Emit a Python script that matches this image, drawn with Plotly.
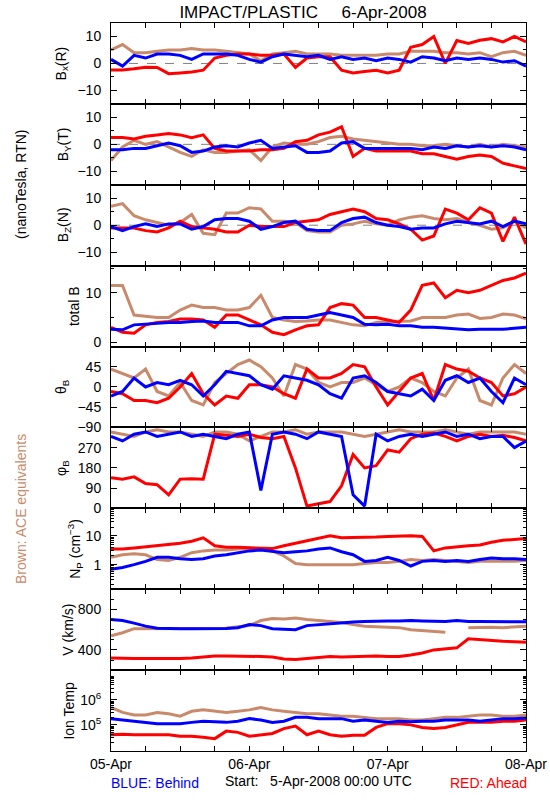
import pandas as pd
import plotly.graph_objects as go

# ---------------- data (2-hourly readings, 5-Apr-2008 00:00 .. 8-Apr-2008 00:00) ----------------
time = pd.date_range("2008-04-05 00:00", periods=37, freq="2h")

bx_ahead = [-2.4, -2.4, -2.0, -1.4, -1.5, -3.8, -3.5, -3.2, -2.5, 2.0, 3.0, 3.5, 3.5, 3.0, 3.0, 3.5, -1.5, 2.0, 2.5,
            2.5, -2.5, -3.5, -3.0, -2.5, -3.5, -2.5, 6.0, 7.0, 10.0, 0.0, 8.5, 7.4, 8.6, 9.2, 8.0, 10.0, 8.0]
bx_behind = [1.5, -1.0, 3.0, 2.0, 3.5, 3.5, 3.0, 1.5, 3.5, 3.5, 3.5, 3.0, 1.5, 0.5, 2.5, 3.5, 3.0, 2.5, 3.0,
             1.5, 2.5, 1.5, 2.0, 1.0, 2.0, 1.5, 0.5, 2.5, 2.0, 1.0, 2.0, 1.5, 2.0, 1.5, 0.5, 1.0, -1.0]
bx_ace = [5, 7, 4, 4, 4.5, 5, 5, 5.5, 5, 5, 4.5, 4, 3.5, 1.0, 3.5, 4, 4.5, 3.5, 3.5,
          3.5, 3, 3, 3, 3, 3.5, 3.5, 4.5, 4.5, 4.5, 4.0, 4.0, 3.5, 4.0, 2.5, 4.0, 4.5, 3.0]

by_ahead = [2.5, 2.5, 2.0, 3.0, 3.5, 4.0, 3.5, 2.5, 3.5, -1.5, -2.5, -2.5, -2.5, -2, -2, -1.5, 1.0, 1.5, 3.5,
            4.5, 6.5, -4.5, -1.5, -2.5, -2.5, -2.5, -2.5, -3.5, -3.5, -4.5, -5.5, -4.5, -4.0, -4.5, -7, -8, -9]
by_behind = [-2, -2, -1.5, -1.5, -0.5, 0.5, -0.5, -3, -2.5, -1, -0.5, -1, 0.5, 1.5, -1.5, -1, -0.5, -3, -3,
             -2.5, 0.5, 1.0, -1.5, -1.5, -1.5, -1.5, -1.5, -2, -1, -1.5, -0.5, -1, -0.5, -1, -0.5, -1, -2]
by_ace = [-6, -1, 1.5, 0, 1.0, -1, -3, -4.5, -2, -3, -3, -2.5, -2, -6, -1, 0.5, 0, 0, 1,
          2.5, 3, 2, 1.5, 1.0, 0.5, 0, 0, -0.5, -0.5, 0, -0.5, -1, 0, -1, 0, -0.5, -1]

bz_ahead = [-1, -1, -1, -2, -2.5, -1, 1.5, -0.5, -1, -1.5, -2.5, -2.5, 0, -0.5, -0.5, -0.5, 1, 1.5, 2,
            4, 5, 6, 5, 2.5, 2, 0.5, -1.5, -5.5, -4, 6, 4.5, 2, 6.5, 4.5, -6, 3, -7]
bz_behind = [-0.5, -2, -0.5, 0.5, -0.5, 0.5, 0.5, -1.5, -0.5, 2, 2.5, 2.5, 1.5, -1.5, -0.5, 1, 1.5, -1.5, -2,
             -2, 1, 2.5, 3, 1, 0, -0.5, -1.5, -1, -1, 0.5, 1.5, 1, 0.5, 1.5, -0.5, 1.5, 0.5]
bz_ace = [7, 8, 3.5, 2, 1, 0, 1, 4, -3, -3.5, 4.5, 4.5, 6.5, 6, 1.5, 1.5, 1, -2, -2.5,
          -2.5, 0, 0.5, 1.5, 0.5, 0, 2, 3, 3.5, 2.5, 2, 2.5, 1, 0, -1.5, -1, 1.5, -1]

btot_ahead = [3.0, 2.0, 1.8, 3.5, 4.0, 4.2, 4.7, 4.7, 4.5, 3.0, 5.5, 5.5, 4.5, 3.5, 2.0, 1.5, 2.5, 3.3, 3.5,
              7.0, 7.8, 7.5, 5.0, 5.0, 4.5, 4.0, 6.5, 11.5, 12.0, 9.0, 10.5, 10.0, 10.5, 11.5, 12.5, 13.0, 14.0]
btot_behind = [2.6, 2.5, 3.5, 3.6, 3.8, 4.0, 4.0, 4.2, 4.3, 4.0, 4.0, 4.0, 3.3, 3.3, 4.5, 5.0, 5.0, 5.0, 5.5,
               6.0, 5.5, 5.0, 3.6, 3.5, 3.6, 3.3, 3.3, 3.0, 3.0, 2.8, 2.6, 2.5, 2.6, 2.6, 2.6, 2.8, 3.0]
btot_ace = [11.5, 11.5, 5.5, 5.3, 5.0, 5.0, 6.5, 7.5, 7.0, 7.0, 6.5, 6.5, 7.0, 9.5, 5.0, 4.5, 4.2, 4.3, 4.5,
            4.5, 4.0, 3.5, 3.3, 4.0, 4.2, 4.2, 4.3, 5.0, 5.0, 5.0, 5.5, 5.7, 4.8, 5.0, 5.7, 5.5, 4.7]

theta_ahead = [-10, -15, -30, -30, -35, -25, 0, 30, -15, -40, -20, -25, 5, 5, 0, -15, -25, 40, 20,
               20, 30, 50, 45, 0, -40, -10, 20, 30, -30, 50, 40, 35, 20, 10, -20, -15, 0]
theta_behind = [-20, -10, 20, 0, 10, 5, 15, 5, -20, 5, 35, 30, 25, 5, -5, 25, 20, 15, 5,
                -15, -25, 20, 25, 10, -10, -15, -20, -5, -30, 15, 25, 10, 20, -10, -35, 20, 5]
theta_ace = [40, 30, 20, 40, -10, -20, 10, -30, -40, 10, 30, 50, 60, 45, 20, -20, 50, 40, 10,
             0, 10, 10, 20, 5, -10, 0, 20, 10, -10, -20, 20, 40, -30, -40, 20, 50, 30]

phi_ahead = [136, 130, 140, 110, 105, 60, 130, 132, 130, 330, 325, 320, 330, 315, 310, 320, 180, 10, 20,
             30, 100, 240, 180, 190, 260, 250, 310, 330, 335, 320, 300, 320, 330, 320, 325, 315, 300]
phi_behind = [320, 300, 330, 340, 320, 330, 340, 320, 330, 320, 310, 330, 340, 80, 330, 340, 330, 310, 340,
              330, 320, 60, 10, 330, 300, 320, 330, 320, 330, 340, 320, 330, 310, 320, 320, 270, 300]
phi_ace = [340, 330, 320, 340, 350, 340, 340, 330, 320, 340, 340, 330, 300, 320, 340, 340, 350, 330, 340,
           340, 340, 330, 320, 330, 340, 350, 340, 340, 340, 350, 340, 330, 340, 340, 340, 340, 330]

np_ahead = [3.5, 3.5, 3.8, 4.2, 4.5, 5.0, 5.5, 6.5, 8.5, 4.5, 4.0, 4.0, 3.8, 3.8, 3.6, 4.5, 5.5, 6.5, 8.0,
            10.0, 8.5, 8.5, 8.5, 9.0, 9.5, 10.0, 10.0, 9.5, 3.0, 3.8, 4.2, 4.5, 4.8, 6.0, 7.0, 7.5, 8.0]
np_behind = [0.7, 0.8, 1.0, 1.3, 1.8, 1.8, 1.6, 1.5, 1.6, 2.0, 2.2, 2.5, 3.0, 3.2, 2.8, 2.6, 2.8, 3.0, 3.5,
             3.8, 2.8, 2.2, 1.3, 1.4, 1.8, 1.4, 0.9, 1.3, 1.4, 1.3, 1.4, 1.3, 1.5, 1.7, 1.6, 1.6, 1.5]
np_ace = [1.8, 2.2, 2.4, 2.2, 1.5, 1.4, 1.8, 2.6, 3.0, 3.2, 3.2, 3.5, 3.6, 3.6, 3.0, 2.0, 1.1, 1.0, 1.0,
          1.0, 1.0, 1.0, 1.1, 1.2, 1.2, 1.3, 1.5, 1.4, 1.5, 1.4, 1.3, 1.2, 1.3, 1.3, 1.3, 1.3, 1.4]

v_ahead = [320, 315, 315, 315, 315, 312, 315, 320, 330, 340, 340, 340, 335, 335, 330, 310, 305, 315, 330,
           335, 330, 335, 340, 340, 335, 335, 350, 370, 400, 410, 420, 510, 500, 490, 485, 480, 475]
v_behind = [700, 690, 665, 635, 615, 610, 610, 610, 610, 610, 612, 620, 650, 640, 610, 605, 600, 640, 650,
            660, 670, 675, 680, 685, 685, 685, 690, 685, 685, 680, 690, 680, 680, 680, 680, 678, 678]
v_ace = [540, 570, 610, 610, 610, 615, 615, 610, 610, 615, 615, 630, 640, 690, 710, 705, 715, 700, 690,
         680, 670, 650, 635, 630, 625, 620, 600, 590, 580, 575, None, 620, 625, 625, 620, 630, 635]

temp_ahead = [4.0e4, 4.2e4, 4.0e4, 4.0e4, 3.8e4, 4.0e4, 3.5e4, 3.5e4, 3.2e4, 2.8e4, 5.6e4, 5.0e4, 3.5e4,
              4.0e4, 4.5e4, 7.1e4, 8.9e4, 4.0e4, 5.6e4, 4.0e4, 3.5e4, 3.8e4, 3.8e4, 7.9e4, 1.12e5, 1.12e5,
              1.0e5, 7.9e4, 7.1e4, 7.9e4, 1.0e5, 1.26e5, 1.26e5, 1.26e5, 1.41e5, 1.41e5, 1.58e5]
temp_behind = [1.78e5, 1.58e5, 1.41e5, 1.26e5, 1.12e5, 1.12e5, 1.12e5, 1.26e5, 1.41e5, 1.32e5, 1.26e5,
               1.41e5, 1.78e5, 1.58e5, 1.26e5, 1.41e5, 2.0e5, 2.0e5, 1.78e5, 1.78e5, 1.78e5, 1.41e5, 1.58e5,
               1.41e5, 1.26e5, 1.41e5, 1.32e5, 1.41e5, 1.41e5, 1.58e5, 1.58e5, 1.58e5, 1.41e5, 1.58e5,
               1.78e5, 1.78e5, 1.9e5]
temp_ace = [5.0e5, 3.16e5, 2.5e5, 2.5e5, 3.16e5, 2.8e5, 2.24e5, 3.5e5, 4.0e5, 3.5e5, 3.16e5, 3.5e5, 4.0e5,
            5.0e5, 4.0e5, 3.5e5, 3.16e5, 2.8e5, 2.8e5, 2.5e5, 2.24e5, 2.24e5, 2.0e5, 1.78e5, 1.78e5, 1.78e5,
            1.58e5, 1.58e5, 1.78e5, 2.0e5, 2.0e5, 2.24e5, 2.5e5, 2.5e5, 2.24e5, 2.24e5, 2.5e5]

day_ticks = pd.date_range("2008-04-05 00:00", periods=4, freq="1D")
day_labels = ["05-Apr", "06-Apr", "07-Apr", "08-Apr"]
six_hour_ticks = [t for t in pd.date_range("2008-04-05 00:00", periods=13, freq="6h") if t.hour != 0]

# ---------------- styling ----------------
RED = "#FF0000"
BLUE = "#0000FF"
BROWN = "#C98A6C"
FONT = "Liberation Sans"

panels = [
    dict(title="B<sub>x</sub>(R)", data=(bx_ace, bx_ahead, bx_behind), rng=[-15, 15], tv=[-10, 0, 10],
         tt=None, log=False, minor=[-15, -5, 5, 15], zero=True, tx=62),
    dict(title="B<sub>Y</sub>(T)", data=(by_ace, by_ahead, by_behind), rng=[-15, 15], tv=[-10, 0, 10],
         tt=None, log=False, minor=[-15, -5, 5, 15], zero=True, tx=64),
    dict(title="B<sub>Z</sub>(N)", data=(bz_ace, bz_ahead, bz_behind), rng=[-15, 15], tv=[-10, 0, 10],
         tt=None, log=False, minor=[-15, -5, 5, 15], zero=True, tx=64),
    dict(title="total B", data=(btot_ace, btot_ahead, btot_behind), rng=[-0.9, 15.5], tv=[0, 10],
         tt=None, log=False, minor=[5, 15], zero=False, tx=74),
    dict(title="θ<sub>B</sub>", data=(theta_ace, theta_ahead, theta_behind), rng=[-90, 90],
         tv=[-90, -45, 0, 45], tt=None, log=False, minor=[], zero=False, tx=62),
    dict(title="φ<sub>B</sub>", data=(phi_ace, phi_ahead, phi_behind), rng=[0, 360], tv=[0, 90, 180, 270],
         tt=None, log=False, minor=[], zero=False, tx=62),
    dict(title="N<sub>P</sub> (cm<sup>−3</sup>)", data=(np_ace, np_ahead, np_behind), rng=[-0.85, 1.95],
         tv=[1, 10], tt=["1", "10"], log=True,
         minor=[0.2, 0.3, 0.4, 0.5, 0.6, 0.7, 0.8, 0.9, 2, 3, 4, 5, 6, 7, 8, 9, 20, 30, 40, 50, 60, 70, 80],
         zero=False, tx=75),
    dict(title="V (km/s)", data=(v_ace, v_ahead, v_behind), rng=[200, 1000], tv=[400, 800], tt=None,
         log=False, minor=[300, 500, 600, 700, 900], zero=False, tx=68),
    dict(title="Ion Temp", data=(temp_ace, temp_ahead, temp_behind), rng=[3.95, 7.2], tv=[1e5, 1e6],
         tt=["10<sup>5</sup>", "10<sup>6</sup>"], log=True,
         minor=[2e4, 3e4, 4e4, 5e4, 6e4, 7e4, 8e4, 9e4, 2e5, 3e5, 4e5, 5e5, 6e5, 7e5, 8e5, 9e5,
                2e6, 3e6, 4e6, 5e6, 6e6, 7e6, 8e6, 9e6],
         zero=False, tx=69),
]

n = len(panels)
W, H = 550, 800
ML, MR, MT, MB = 111, 24, 23, 49
plot_h = H - MT - MB
plot_w = W - ML - MR

fig = go.Figure()
layout_axes = {}

for i, p in enumerate(panels):
    k = i + 1
    xname = "x" if k == 1 else f"x{k}"
    yname = "y" if k == 1 else f"y{k}"
    for series, color in zip(p["data"], (BROWN, RED, BLUE)):
        fig.add_trace(go.Scatter(x=time, y=series, mode="lines", xaxis=xname, yaxis=yname,
                                 line=dict(color=color, width=3),
                                 showlegend=False, hoverinfo="skip"))
    dom = [1 - (i + 1) / n, 1 - i / n]
    yax = dict(
        domain=dom, anchor=xname,
        range=p["rng"], type="log" if p["log"] else "linear",
        tickmode="array", tickvals=p["tv"],
        ticks="inside", ticklen=6, tickcolor="black", tickwidth=1,
        showline=True, linecolor="black", linewidth=1, mirror="ticks",
        showgrid=False, zeroline=False, automargin=False,
        tickfont=dict(family=FONT, size=14, color="black"),
        ticklabelstandoff=6,
        minor=dict(tickmode="array", tickvals=p["minor"], ticks="inside", ticklen=3,
                   tickcolor="black", showgrid=False),
    )
    if p["tt"] is not None:
        yax["ticktext"] = p["tt"]
    xax = dict(
        domain=[0, 1], anchor=yname,
        range=[time[0], time[-1]], tickmode="array", tickvals=day_ticks, ticktext=day_labels,
        ticks="inside", ticklen=5, tickcolor="black",
        showline=True, linecolor="black", linewidth=1, mirror="ticks",
        showgrid=False, zeroline=False, automargin=False,
        showticklabels=(k == n), ticklabeloverflow="allow",
        tickfont=dict(family=FONT, size=14, color="black"),
        minor=dict(tickmode="array", tickvals=six_hour_ticks, ticks="inside", ticklen=5,
                   tickcolor="black", showgrid=False),
    )
    if k > 1:
        xax["matches"] = "x"
    layout_axes["yaxis" if k == 1 else f"yaxis{k}"] = yax
    layout_axes["xaxis" if k == 1 else f"xaxis{k}"] = xax
    if p["zero"]:
        fig.add_shape(type="line", xref=f"{xname} domain", yref=yname, x0=0, x1=1, y0=0, y1=0,
                      line=dict(color="#808080", width=1, dash="dash"), layer="below")
    cy = (dom[0] + dom[1]) / 2
    fig.add_annotation(text=p["title"], xref="paper", yref="paper",
                       x=(p["tx"] - ML) / plot_w, y=cy, xanchor="center", yanchor="middle",
                       textangle=-90, showarrow=False,
                       font=dict(family=FONT, size=14, color="black"))


def px_x(px):
    return (px - ML) / plot_w


def px_y(py):
    return 1 - (py - MT) / plot_h


annos = [
    dict(text="(nanoTesla, RTN)", x=px_x(21), y=px_y(185), textangle=-90, color="black"),
    dict(text="Brown: ACE equivalents", x=px_x(21), y=px_y(509), textangle=-90, color=BROWN),
    dict(text="BLUE: Behind", x=px_x(155), y=px_y(783), textangle=0, color=BLUE),
    dict(text="Start:   5-Apr-2008 00:00 UTC", x=px_x(318), y=px_y(781), textangle=0, color="black"),
    dict(text="RED: Ahead", x=px_x(488), y=px_y(783), textangle=0, color=RED),
]
for a in annos:
    fig.add_annotation(text=a["text"], xref="paper", yref="paper", x=a["x"], y=a["y"],
                       xanchor="center", yanchor="middle", textangle=a["textangle"], showarrow=False,
                       font=dict(family=FONT, size=14, color=a["color"]))

fig.update_layout(
    width=W, height=H,
    margin=dict(l=ML, r=MR, t=MT, b=MB),
    paper_bgcolor="white", plot_bgcolor="white",
    title=dict(text="IMPACT/PLASTIC     6-Apr-2008", x=px_x(303), xref="paper", xanchor="center",
               y=1 - 12 / H, yanchor="middle", font=dict(family=FONT, size=17, color="black")),
    showlegend=False,
    **layout_axes,
)

fig.write_html("out.html", config={"displayModeBar": False},
               post_script="document.body.style.margin='0px';")
